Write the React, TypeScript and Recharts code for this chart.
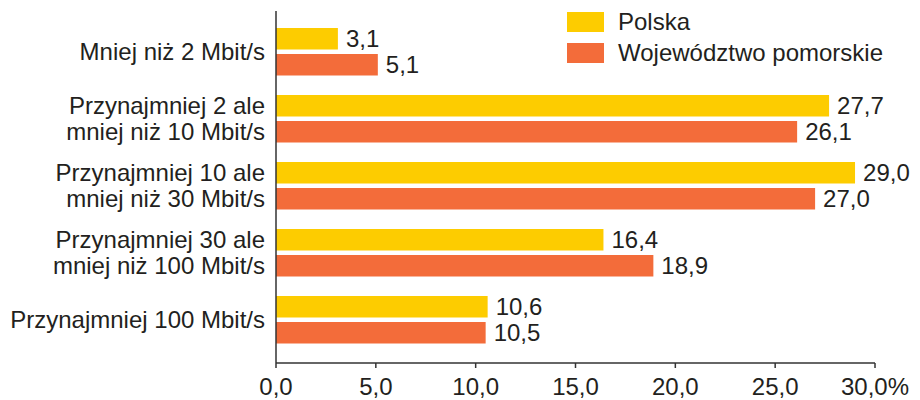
import React from "react";
import { BarChart, Bar, XAxis, YAxis, LabelList } from "recharts";

// speed brackets (line breaks as in the original figure)
const categories = [
  "Mniej niż 2 Mbit/s",
  "Przynajmniej 2 ale\nmniej niż 10 Mbit/s",
  "Przynajmniej 10 ale\nmniej niż 30 Mbit/s",
  "Przynajmniej 30 ale\nmniej niż 100 Mbit/s",
  "Przynajmniej 100 Mbit/s",
];
const polska = [3.1, 27.7, 29.0, 16.4, 10.6];
const pomorskie = [5.1, 26.1, 27.0, 18.9, 10.5];
const xTicks = [0, 5, 10, 15, 20, 25, 30];

const seriesNames = ["Polska", "Województwo pomorskie"];
const YELLOW = "#FDCC00";
const ORANGE = "#F36C3A";
const TEXT = "#231f20";
const FONT = "'Liberation Sans', Arial, sans-serif";
const FS = 24;

const data = categories.map((c, i) => ({
  name: c,
  polska: polska[i],
  pomorskie: pomorskie[i],
}));

const fmt = (v: number) => v.toFixed(1).replace(".", ",");

const CategoryTick = (props: any) => {
  const { x, y, payload } = props;
  const lines: string[] = String(payload.value).split("\n");
  const lh = 26;
  const start = -((lines.length - 1) * lh) / 2;
  return (
    <text
      x={x}
      y={y}
      textAnchor="end"
      fill={TEXT}
      fontSize={FS}
      fontFamily={FONT}
    >
      {lines.map((l, i) => (
        <tspan key={i} x={x} y={y + start + i * lh} dy="0.35em">
          {l}
        </tspan>
      ))}
    </text>
  );
};

// legend drawn as an overlay so it doesn't eat into the plot area
const LegendBox = () => {
  const colors = [YELLOW, ORANGE];
  return (
    <div
      style={{
        position: "absolute",
        left: 567,
        top: 6,
        fontFamily: FONT,
        fontSize: FS,
        color: TEXT,
      }}
    >
      {seriesNames.map((n, i) => (
        <div
          key={n}
          style={{
            display: "flex",
            alignItems: "center",
            height: 31,
            whiteSpace: "nowrap",
          }}
        >
          <span
            style={{
              display: "inline-block",
              width: 37,
              height: 20,
              background: colors[i],
              marginRight: 14,
            }}
          />
          {n}
        </div>
      ))}
    </div>
  );
};

export default function App() {
  return (
    <div
      style={{
        position: "absolute",
        left: 0,
        top: 0,
        width: 920,
        height: 400,
        background: "#fff",
      }}
    >
      <BarChart
        width={920}
        height={400}
        data={data}
        layout="vertical"
        margin={{ top: 11, right: 45, bottom: 0, left: 0 }}
        barSize={21.5}
        barGap={4.5}
      >
        <XAxis
          type="number"
          domain={[0, 30]}
          ticks={xTicks}
          interval={0}
          height={37}
          tickFormatter={(v: number) => (v === 30 ? fmt(v) + "%" : fmt(v))}
          stroke="#333"
          strokeWidth={1.5}
          tickSize={5}
          tickMargin={10}
          tick={{ fill: TEXT, fontSize: FS, fontFamily: FONT }}
        />
        <YAxis
          type="category"
          dataKey="name"
          width={276}
          stroke="#333"
          strokeWidth={1.5}
          tickSize={0}
          tickMargin={11}
          padding={{ top: 7, bottom: 10 }}
          interval={0}
          tick={<CategoryTick />}
        />
        <Bar
          dataKey="polska"
          name={seriesNames[0]}
          fill={YELLOW}
          isAnimationActive={false}
        >
          <LabelList
            dataKey="polska"
            position="right"
            offset={8}
            formatter={(v: any) => fmt(Number(v))}
            fill={TEXT}
            fontSize={FS}
            fontFamily={FONT}
          />
        </Bar>
        <Bar
          dataKey="pomorskie"
          name={seriesNames[1]}
          fill={ORANGE}
          isAnimationActive={false}
        >
          <LabelList
            dataKey="pomorskie"
            position="right"
            offset={8}
            formatter={(v: any) => fmt(Number(v))}
            fill={TEXT}
            fontSize={FS}
            fontFamily={FONT}
          />
        </Bar>
      </BarChart>
      <LegendBox />
    </div>
  );
}
